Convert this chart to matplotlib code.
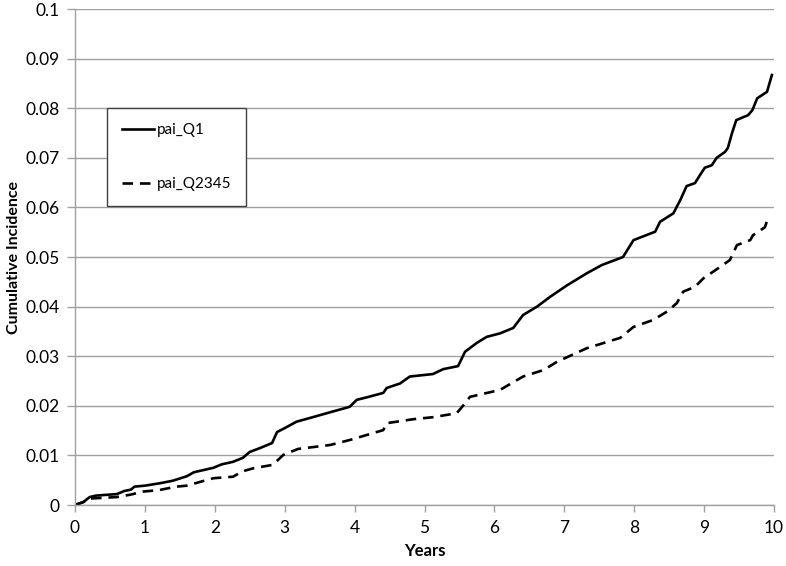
import matplotlib
matplotlib.use("Agg")
import matplotlib.pyplot as plt

plt.rcParams['font.family'] = ['Lato', 'DejaVu Sans']

# pai_Q1 (solid)
q1_years = [0, 0.12, 0.21, 0.3, 0.6, 0.7, 0.8, 0.85, 1.0, 1.22, 1.4, 1.6, 1.7, 1.98, 2.1,
            2.26, 2.4, 2.5, 2.65, 2.82, 2.89, 3.0, 3.17, 3.4, 3.6, 3.93, 4.03, 4.2, 4.41,
            4.46, 4.65, 4.79, 5.12, 5.27, 5.48, 5.58, 5.75, 5.89, 6.08, 6.27, 6.41, 6.61,
            6.8, 7.04, 7.32, 7.54, 7.84, 7.99, 8.3, 8.37, 8.56, 8.66, 8.75, 8.87, 8.94,
            9.01, 9.11, 9.18, 9.3, 9.34, 9.4, 9.46, 9.63, 9.69, 9.76, 9.9, 9.97]
q1_inc = [0, 0.0006, 0.0016, 0.0019, 0.0022, 0.0028, 0.0031, 0.0037, 0.0039, 0.0044, 0.0049,
          0.0058, 0.0066, 0.0075, 0.0082, 0.0087, 0.0095, 0.0107, 0.0115, 0.0125, 0.0147,
          0.0155, 0.0168, 0.0177, 0.0185, 0.0198, 0.0212, 0.0218, 0.0226, 0.0236, 0.0245,
          0.0259, 0.0264, 0.0274, 0.028, 0.0309, 0.0327, 0.0339, 0.0346, 0.0357, 0.0383,
          0.04, 0.042, 0.0443, 0.0467, 0.0484, 0.05, 0.0534, 0.0551, 0.0571, 0.0588, 0.0615,
          0.0643, 0.0649, 0.0665, 0.068, 0.0685, 0.07, 0.0712, 0.072, 0.075, 0.0776, 0.0786,
          0.0796, 0.082, 0.0833, 0.0867]

# pai_Q2345 (dashed)
q2345_years = [0, 0.12, 0.21, 0.6, 0.8, 0.97, 1.2, 1.45, 1.6, 1.8, 1.98, 2.26, 2.4, 2.55,
               2.83, 2.98, 3.19, 3.65, 3.93, 4.41, 4.46, 4.84, 5.12, 5.46, 5.55, 5.65, 6.08,
               6.41, 6.7, 6.9, 7.32, 7.8, 7.99, 8.27, 8.47, 8.61, 8.7, 8.87, 8.99, 9.23, 9.37,
               9.47, 9.66, 9.7, 9.87, 9.91]
q2345_inc = [0, 0.0006, 0.0013, 0.0016, 0.0021, 0.0027, 0.003, 0.0037, 0.0039, 0.0047, 0.0054,
             0.0057, 0.0068, 0.0074, 0.0081, 0.0101, 0.0113, 0.0121, 0.0131, 0.0151, 0.0165,
             0.0173, 0.0177, 0.0185, 0.02, 0.0218, 0.0232, 0.0259, 0.0272, 0.0289, 0.0316,
             0.0337, 0.0359, 0.0373, 0.039, 0.0407, 0.043, 0.044, 0.0457, 0.048, 0.0494,
             0.0524, 0.0534, 0.0544, 0.056, 0.0577]

x_ticks = list(range(0, 11))
y_ticks = [0, 0.01, 0.02, 0.03, 0.04, 0.05, 0.06, 0.07, 0.08, 0.09, 0.1]
y_tick_labels = ['0', '0.01', '0.02', '0.03', '0.04', '0.05', '0.06', '0.07', '0.08', '0.09', '0.1']

fig = plt.figure(figsize=(7.86, 5.66), dpi=100)
ax = fig.add_axes([75/786, 1-505/566, 699/786, 496/566])

grid_c = '#a0a0a0'
ax.plot(q1_years, q1_inc, color='black', lw=1.9, label='pai_Q1', solid_joinstyle='round')
ax.plot(q2345_years, q2345_inc, color='black', lw=1.9, linestyle=(0, (4, 2.6)), label='pai_Q2345')

ax.set_xlim(0, 10)
ax.set_ylim(0, 0.1)
ax.set_xticks(x_ticks)
ax.set_yticks(y_ticks)
ax.set_yticklabels(y_tick_labels)
ax.grid(axis='y', color=grid_c, lw=1.0)
ax.set_axisbelow(True)
for s in ['top', 'right']:
    ax.spines[s].set_visible(False)
for s in ['left', 'bottom']:
    ax.spines[s].set_color(grid_c)
    ax.spines[s].set_linewidth(1.0)
ax.tick_params(axis='x', colors=grid_c, length=5, width=1, labelcolor='black', labelsize=12.5, pad=6)
ax.tick_params(axis='y', colors=grid_c, length=6, width=1, labelcolor='black', labelsize=12.5, pad=5)

ax.set_xlabel('Years', fontsize=12, fontweight='bold', labelpad=5)
ax.set_ylabel('Cumulative Incidence', fontsize=11.5, fontweight='bold', labelpad=3)

leg = ax.legend(loc='upper left', bbox_to_anchor=(32/699, 397/496), frameon=True, fancybox=False,
                fontsize=11, labelspacing=2.6, handlelength=2.1, handletextpad=0.15,
                borderpad=1.0, borderaxespad=0)
leg.get_frame().set_edgecolor('#404040')
leg.get_frame().set_linewidth(1.0)
leg.get_frame().set_alpha(1)

fig.savefig('out.png', dpi=100)
